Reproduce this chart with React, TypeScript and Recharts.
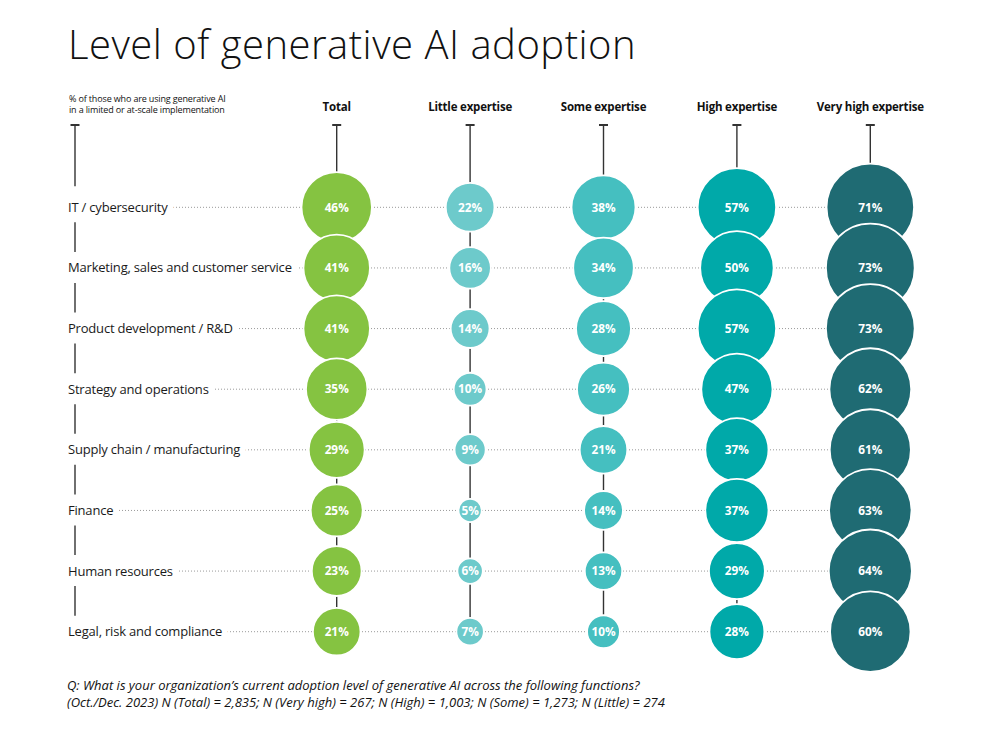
import React from 'react';
import { ScatterChart, Scatter, XAxis, YAxis, ZAxis, CartesianGrid } from 'recharts';

// ---------- data ----------
const FUNCTIONS = [
  'IT / cybersecurity',
  'Marketing, sales and customer service',
  'Product development / R&D',
  'Strategy and operations',
  'Supply chain / manufacturing',
  'Finance',
  'Human resources',
  'Legal, risk and compliance',
];
const COLUMNS = ['Total', 'Little expertise', 'Some expertise', 'High expertise', 'Very high expertise'];
const TOTAL = [46, 41, 41, 35, 29, 25, 23, 21];
const LITTLE = [22, 16, 14, 10, 9, 5, 6, 7];
const SOME = [38, 34, 28, 26, 21, 14, 13, 10];
const HIGH = [57, 50, 57, 47, 37, 37, 29, 28];
const VERY_HIGH = [71, 73, 73, 62, 61, 63, 64, 60];
const SERIES = [TOTAL, LITTLE, SOME, HIGH, VERY_HIGH];
const COLORS = ['#85c341', '#6dcacb', '#45bfc0', '#00a9a9', '#1f6b73'];

const TITLE = 'Level of generative AI adoption';
const SUBTITLE = ['% of those who are using generative AI', 'in a limited or at-scale implementation'];
const FOOTNOTE = [
  'Q: What is your organization\u2019s current adoption level of generative AI across the following functions?',
  '(Oct./Dec. 2023) N (Total) = 2,835; N (Very high) = 267; N (High) = 1,003; N (Some) = 1,273; N (Little) = 274',
];

// ---------- layout ----------
const W = 1000;
const H = 738;
const M = { top: 92, right: 63, bottom: 76, left: 68 };
const Y_AXIS_W = 202;
const X_AXIS_H = 85;
const PLOT_W = W - M.left - M.right - Y_AXIS_W;
const PLOT_H = H - M.top - M.bottom - X_AXIS_H;
const COL_STEP = PLOT_W / COLUMNS.length;
const ROW_STEP = PLOT_H / FUNCTIONS.length;
const CAP_OFFSET = 52; // distance of the header cap above the plot top
const FONT = '"Open Sans", "Noto Sans", sans-serif';
const LINE = '#333333';

const seriesData = SERIES.map((vals, c) =>
  vals.map((v, r) => ({ col: c, row: r, v }))
);

const HeaderTick = (props: any) => {
  const { x, y, payload } = props;
  const capY = y - CAP_OFFSET;
  return (
    <g>
      <text x={x} y={y - 66} textAnchor="middle" fontFamily={FONT} fontWeight={700} fontSize={11.5} fill="#111" letterSpacing={-0.2}>
        {COLUMNS[payload.value]}
      </text>
      <line x1={x - 4.5} x2={x + 4.5} y1={capY} y2={capY} stroke={LINE} strokeWidth={2} />
    </g>
  );
};

const RowTick = (props: any) => {
  const { x, y, payload } = props;
  const left = x - Y_AXIS_W;
  const axisX = left + 7;
  const isLast = payload.value === FUNCTIONS.length - 1;
  const isFirst = payload.value === 0;
  return (
    <g>
      <text
        x={left}
        y={y}
        dy="0.35em"
        fontFamily={FONT}
        fontSize={13}
        fill="#1a1a1a"
        letterSpacing={-0.2}
        stroke="#ffffff"
        strokeWidth={12}
        paintOrder="stroke"
        strokeLinejoin="round"
      >
        {FUNCTIONS[payload.value]}
      </text>
      {isFirst && (
        <g>
          <line x1={axisX - 4.5} x2={axisX + 4.5} y1={y - CAP_OFFSET - ROW_STEP / 2} y2={y - CAP_OFFSET - ROW_STEP / 2} stroke={LINE} strokeWidth={2} />
          <line x1={axisX} x2={axisX} y1={y - CAP_OFFSET - ROW_STEP / 2} y2={y - 21} stroke={LINE} strokeWidth={1.4} />
        </g>
      )}
      {!isLast && (
        <line x1={axisX} x2={axisX} y1={y + 15} y2={y + ROW_STEP - 16} stroke={LINE} strokeWidth={1.4} />
      )}
    </g>
  );
};

const RowGuide = (props: any) => {
  const { x1, y1, index, y, height } = props;
  if (typeof y === 'number' && typeof height === 'number') {
    if (y1 < y + ROW_STEP / 4 || y1 > y + height - ROW_STEP / 4) return null;
  }
  return (
    <line
      key={`g-${index}`}
      x1={x1 - Y_AXIS_W}
      x2={x1 + COL_STEP * (COLUMNS.length - 0.5)}
      y1={y1}
      y2={y1}
      stroke="#9a9a9a"
      strokeWidth={1}
      strokeDasharray="1 2"
    />
  );
};

const makeBubble = (color: string) => (props: any) => {
  const { cx, cy, payload } = props;
  const r = props.width ? props.width / 2 : Math.sqrt((props.size || 0) / Math.PI);
  return (
    <g>
      {payload.row === 0 && (
        <line x1={cx} x2={cx} y1={cy - CAP_OFFSET - ROW_STEP / 2} y2={cy} stroke={LINE} strokeWidth={1.4} />
      )}
      <circle cx={cx} cy={cy} r={r} fill={color} stroke="#ffffff" strokeWidth={1.8} />
      <text x={cx} y={cy} dy="0.36em" textAnchor="middle" fontFamily={FONT} fontWeight={700} fontSize={11.8} fill="#ffffff">
        {payload.v}%
      </text>
    </g>
  );
};

export default function App() {
  return (
    <div style={{ position: 'absolute', left: 0, top: 0, width: W, height: H, background: '#fff' }}>
      <ScatterChart width={W} height={H} margin={M}>
        <CartesianGrid vertical={false} horizontal={RowGuide} />
        <XAxis
          type="number"
          dataKey="col"
          orientation="top"
          domain={[-0.5, COLUMNS.length - 0.5]}
          ticks={COLUMNS.map((_, i) => i)}
          interval={0}
          height={X_AXIS_H}
          axisLine={false}
          tickLine={false}
          tickSize={0}
          tickMargin={0}
          tick={<HeaderTick />}
        />
        <YAxis
          type="number"
          dataKey="row"
          domain={[-0.5, FUNCTIONS.length - 0.5]}
          reversed
          ticks={FUNCTIONS.map((_, i) => i)}
          interval={0}
          width={Y_AXIS_W}
          axisLine={false}
          tickLine={false}
          tickSize={0}
          tickMargin={0}
          tick={<RowTick />}
        />
        <ZAxis type="number" dataKey="v" domain={[0, 100]} range={[0, Math.PI * 27 * 100]} />
        {seriesData.map((d, i) => (
          <Scatter
            key={COLUMNS[i]}
            name={COLUMNS[i]}
            data={d}
            isAnimationActive={false}
            line={{ stroke: LINE, strokeWidth: 1.4 }}
            shape={makeBubble(COLORS[i])}
          />
        ))}
      </ScatterChart>
      <svg width={W} height={H} style={{ position: 'absolute', left: 0, top: 0, pointerEvents: 'none' }}>
        <text x={68} y={59} fontFamily={FONT} fontWeight={300} fontSize={40} fill="#111" letterSpacing={0.5}>
          {TITLE}
        </text>
        {SUBTITLE.map((s, i) => (
          <text key={i} x={69} y={101.5 + i * 11} fontFamily={FONT} fontSize={9} fill="#111" letterSpacing={-0.15}>
            {s}
          </text>
        ))}
        {FOOTNOTE.map((s, i) => (
          <text key={i} x={67} y={690 + i * 17} fontFamily={FONT} fontStyle="italic" fontSize={13} fill="#111" letterSpacing={0}>
            {s}
          </text>
        ))}
      </svg>
    </div>
  );
}
